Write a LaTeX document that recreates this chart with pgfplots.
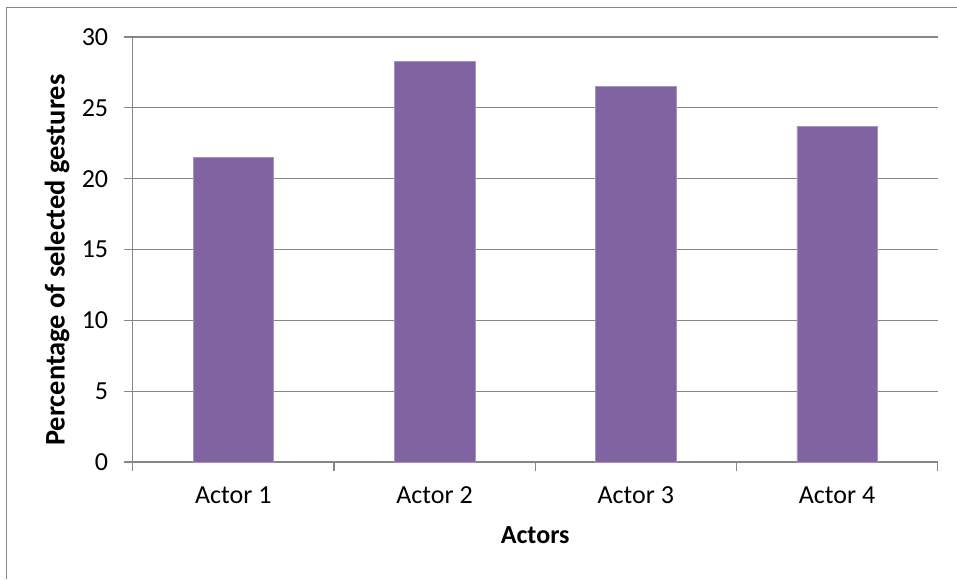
\documentclass[border=0pt]{standalone}
\usepackage{pgfplots}
\pgfplotsset{compat=1.18}
\usepackage{fontspec}
\setmainfont{Carlito}
\definecolor{barpurple}{HTML}{8064A2}
\definecolor{gridgray}{HTML}{868686}
\begin{document}
\begin{tikzpicture}[x=1pt,y=1pt]
\useasboundingbox (0,0) rectangle (957,579);
\draw[gridgray, line width=1.3pt] (6.5,0) -- (6.5,571.7) -- (957,571.7);
\begin{axis}[
    at={(132.7pt,117pt)}, anchor=south west,
    scale only axis, width=805pt, height=425pt,
    ymin=0, ymax=30, ytick={0,5,...,30},
    xmin=-0.5, xmax=3.5,
    xtick={0,1,2,3},
    xticklabels={Actor 1,Actor 2,Actor 3,Actor 4},
    minor xtick={-0.5,0.5,1.5,2.5,3.5},
    major x tick style={draw=none},
    minor tick length=9pt, major tick length=9pt,
    tick align=outside,
    axis x line*=bottom, axis y line*=left,
    axis line style={gridgray, line width=1.3pt, -},
    tick style={gridgray, line width=1.3pt},
    ymajorgrids, grid style={gridgray, line width=1.3pt},
    font=\fontsize{26}{31}\selectfont,
    /pgf/number format/assume math mode=true,
    xlabel={\textbf{Actors}},
    ylabel={\fontsize{28.4}{34}\selectfont\textbf{Percentage of selected gestures}},
    xlabel style={at={(axis description cs:0.5,-0.172)}, anchor=center},
    ylabel style={at={(axis description cs:-0.094,0.475)}, anchor=center},
    xticklabel style={anchor=base, yshift=-32pt},
    yticklabel style={anchor=east, xshift=-12pt},
    ybar, bar width=0.4,
]
\addplot[fill=barpurple, draw=barpurple!70!white, line width=0.5pt] coordinates {
    (0,21.5) (1,28.3) (2,26.5) (3,23.7)
};
\end{axis}
\end{tikzpicture}
\end{document}
